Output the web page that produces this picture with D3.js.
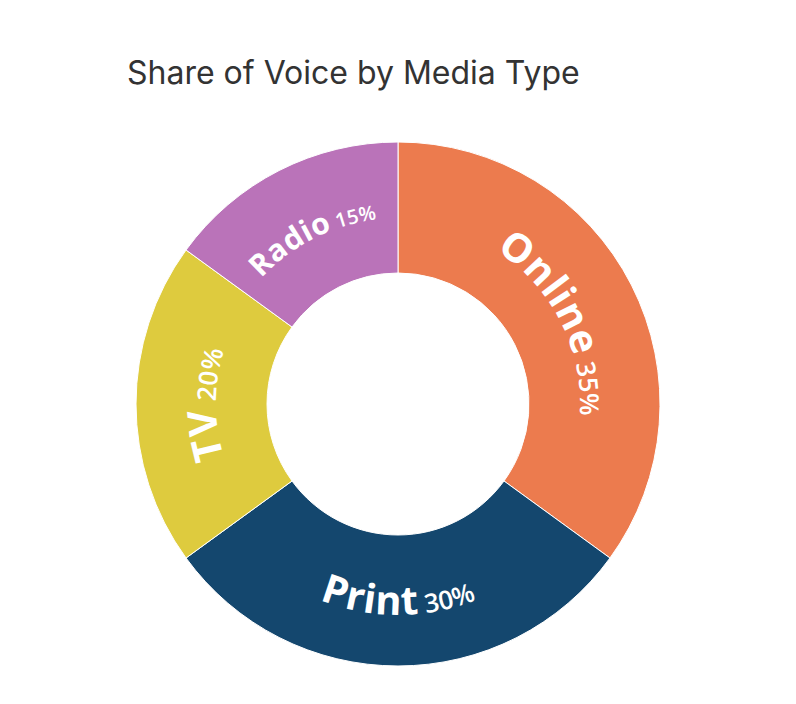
<!DOCTYPE html>
<html>
<head>
<meta charset="utf-8">
<script src="https://cdn.jsdelivr.net/npm/d3@7"></script>
<style>
  body { margin: 0; background: #fff; }
  svg { display: block; }
</style>
</head>
<body>
<div id="chart"></div>
<script>
var mediaTypes = ["Online", "Print", "TV", "Radio"];
var shares = [35, 30, 20, 15];
var colors = ["#EC7B4E", "#14476E", "#DECB3E", "#BA73B9"];

var width = 796,
    height = 704,
    cx = 398,
    cy = 404,
    outerR = 262,
    innerR = 131,
    textR = (outerR + innerR) / 2;

var svg = d3.select("#chart").append("svg")
    .attr("width", width)
    .attr("height", height);

svg.append("text")
    .attr("x", 127)
    .attr("y", 84)
    .attr("fill", "#333")
    .style("font", "32px Inter, 'Liberation Sans', Arial, sans-serif")
    .text("Share of Voice by Media Type");

var data = mediaTypes.map((m, i) => ({ name: m, value: shares[i], color: colors[i] }));

var pie = d3.pie().sort(null).value(d => d.value);
var arcs = pie(data);

var arc = d3.arc()
    .innerRadius(innerR)
    .outerRadius(outerR);

var g = svg.append("g").attr("transform", `translate(${cx},${cy})`);

g.selectAll("path.slice")
    .data(arcs)
    .enter().append("path")
    .attr("class", "slice")
    .attr("d", arc)
    .attr("fill", d => d.data.color)
    .attr("stroke", "#fff")
    .attr("stroke-width", 1);

function bigSize(d) { return d.data.value >= 20 ? 40 : 30; }
function smallSize(d) { return d.data.value >= 20 ? 26 : 20; }

// curved paths for the labels, flipped on the bottom half so text stays upright
var defs = svg.append("defs");
arcs.forEach(function (d, i) {
    var big = bigSize(d);
    var mid = (d.startAngle + d.endAngle) / 2;
    var flip = mid > Math.PI / 2 && mid < 3 * Math.PI / 2;
    var r = flip ? textR + 0.36 * big : textR - 0.36 * big;
    var a = flip ? d.endAngle : d.startAngle,
        b = flip ? d.startAngle : d.endAngle;
    var x0 = r * Math.sin(a), y0 = -r * Math.cos(a),
        x1 = r * Math.sin(b), y1 = -r * Math.cos(b);
    defs.append("path")
        .attr("id", "lp" + i)
        .attr("d", `M${x0},${y0} A${r},${r} 0 0 ${flip ? 0 : 1} ${x1},${y1}`);
});

var labels = g.selectAll("text.label")
    .data(arcs)
    .enter().append("text")
    .attr("class", "label")
    .attr("fill", "#fff")
    .style("font-family", "'Open Sans', Inter, sans-serif")
    .style("font-weight", 700);

var tp = labels.append("textPath")
    .attr("href", (d, i) => "#lp" + i)
    .attr("startOffset", "50%")
    .attr("text-anchor", "middle");

tp.append("tspan")
    .style("font-size", d => bigSize(d) + "px")
    .style("letter-spacing", "0.5px")
    .text(d => d.data.name);

tp.append("tspan")
    .style("font-size", d => smallSize(d) + "px")
    .style("font-weight", 600)
    .text(d => " " + d.data.value + "%");
</script>
</body>
</html>
